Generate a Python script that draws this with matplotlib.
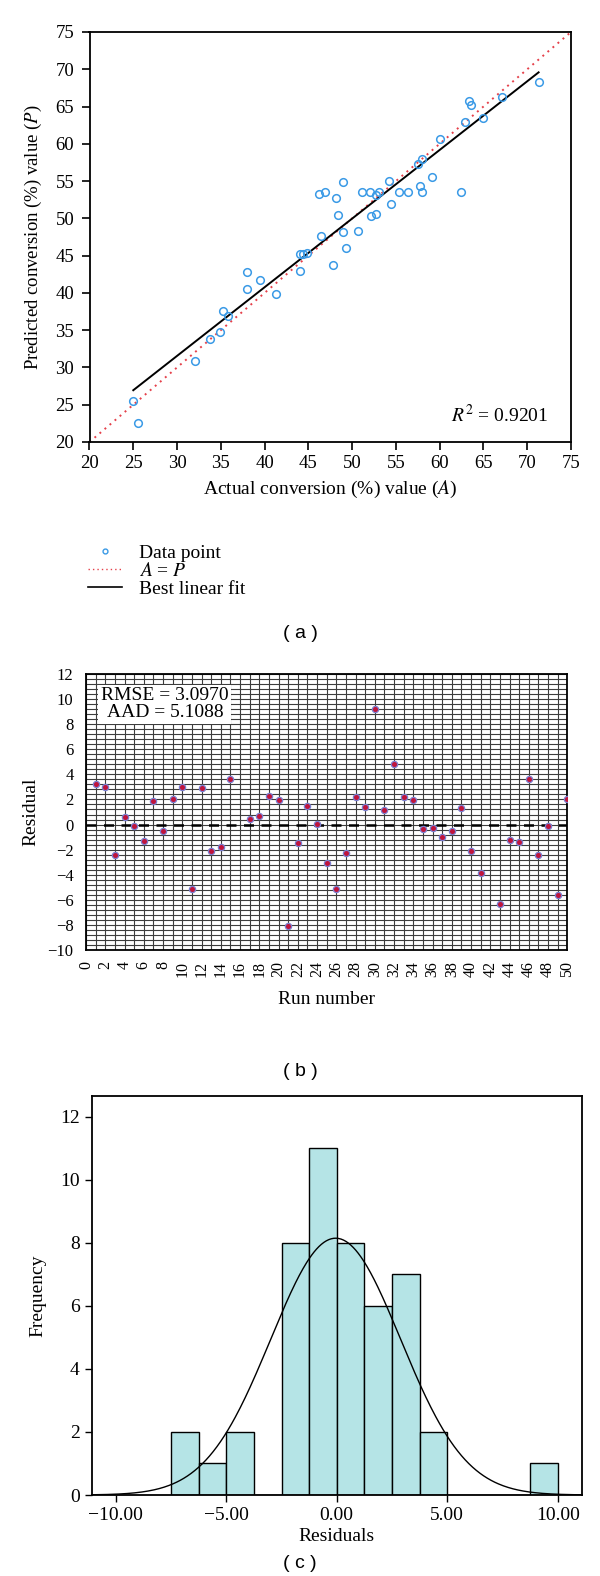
import numpy as np
import matplotlib
matplotlib.use('Agg')
import matplotlib.pyplot as plt
from matplotlib.lines import Line2D
from matplotlib.ticker import MultipleLocator, FuncFormatter

plt.rcParams['font.family'] = ['Liberation Serif', 'DejaVu Serif']
plt.rcParams['mathtext.fontset'] = 'stix'
plt.rcParams['axes.unicode_minus'] = True

# (a) actual vs predicted conversion
actual = [71.3, 67.1, 63.3, 63.55, 64.9, 62.9, 60.0, 58.0, 57.5, 59.1, 57.7, 58.0,
          62.4, 54.2, 55.3, 56.4, 53.1, 52.7, 52.0, 51.1, 54.4, 52.7, 52.2, 50.7,
          48.9, 46.2, 46.9, 48.2, 48.4, 46.4, 48.9, 49.3, 47.8, 44.0, 44.1, 44.4,
          44.9, 38.0, 39.5, 38.0, 41.3, 35.3, 35.8, 34.9, 33.75, 32.0, 25.0, 25.5]
predicted = [68.25, 66.3, 65.8, 65.24, 63.4, 62.9, 60.7, 58.0, 57.3, 55.6, 54.3, 53.6,
             53.6, 55.0, 53.6, 53.6, 53.6, 53.2, 53.6, 53.6, 51.9, 50.6, 50.3, 48.3,
             54.9, 53.3, 53.6, 52.7, 50.5, 47.6, 48.2, 46.05, 43.8, 43.0, 45.2, 45.2,
             45.4, 42.8, 41.7, 40.5, 39.9, 37.6, 36.9, 34.7, 33.8, 30.9, 25.5, 22.5]
fit_slope = 0.921
fit_intercept = 3.92
fit_range = [25.0, 71.3]
r2 = 0.9201

# (b) residuals by run number
runs = [1, 2, 3, 4, 5, 6, 7, 8, 9, 10, 11, 12, 13, 14, 15, 17, 18, 19, 20,
        21, 22, 23, 24, 25, 26, 27, 28, 29, 30, 31, 32, 33, 34, 35, 36, 37,
        38, 39, 40, 41, 43, 44, 45, 46, 47, 48, 49, 50]
residual = [3.23, 2.96, -2.42, 0.61, -0.08, -1.31, 1.89, -0.55, 2.05, 3.01, -5.1,
            2.91, -2.13, -1.81, 3.63, 0.48, 0.67, 2.27, 1.95, -8.06, -1.44, 1.49,
            0.05, -3.06, -5.1, -2.26, 2.19, 1.39, 9.25, 1.12, 4.8, 2.16, 1.95,
            -0.32, -0.27, -1.02, -0.55, 1.33, -2.1, -3.83, -6.34, -1.26, -1.39,
            3.63, -2.4, -0.11, -5.6, 2.05]
rmse = 3.0970
aad = 5.1088

# (c) histogram of residuals
bin_edges = [-7.5, -6.25, -5.0, -3.75, -2.5, -1.25, 0.0, 1.25, 2.5, 3.75, 5.0,
             6.25, 7.5, 8.75, 10.0]
counts = [2, 1, 2, 0, 8, 11, 8, 6, 7, 2, 0, 0, 0, 1]
norm_mean = -0.05
norm_std = 2.94

fig = plt.figure(figsize=(6, 15.76), dpi=100)
W, H = 600, 1576


def rect(left, top, right, bottom):
    return [left / W, 1 - bottom / H, (right - left) / W, (bottom - top) / H]


# ---- panel (a)
ax1 = fig.add_axes(rect(89.5, 32, 571, 442))
ax1.plot([20, 75], [20, 75], linestyle=(0, (1, 2.4)), color='#e5404a', lw=1.4)
xf = np.array(fit_range)
ax1.plot(xf, fit_slope * xf + fit_intercept, color='black', lw=1.4)
ax1.plot(actual, predicted, 'o', mfc='none', mec='#3a9ae6', ms=5.5, mew=1.1)
ax1.set_xlim(20, 75)
ax1.set_ylim(20, 75)
ax1.set_xticks(range(20, 80, 5))
ax1.set_yticks(range(20, 80, 5))
ax1.tick_params(labelsize=13.5, length=6, width=1.2)
ax1.tick_params(axis='y', pad=5)
for s in ax1.spines.values():
    s.set_linewidth(1.3)
ax1.set_xlabel('Actual conversion (%) value ($A$)', fontsize=14, labelpad=5)
ax1.set_ylabel('Predicted conversion (%) value ($P$)', fontsize=13.5, labelpad=8)
ax1.text(72.4, 23.6, '$R^2$ = 0.9201', fontsize=14, ha='right', va='center')

handles = [Line2D([], [], marker='o', ls='none', mfc='none', mec='#3a9ae6', ms=3.5, mew=1),
           Line2D([], [], ls=(0, (1, 2.2)), color='#e5404a', lw=1),
           Line2D([], [], color='black', lw=1.2)]
fig.legend(handles, ['Data point', '$A$ = $P$', 'Best linear fit'],
           loc='upper left', bbox_to_anchor=(88 / W, 1 - 544 / H),
           frameon=False, fontsize=14, handlelength=1.75, handletextpad=0.85,
           labelspacing=0.02, borderpad=0, borderaxespad=0)

# ---- panel (b)
ax2 = fig.add_axes(rect(86, 674, 567.3, 950))
ax2.set_xlim(0, 50)
ax2.set_ylim(-10, 12)
ax2.xaxis.set_major_locator(MultipleLocator(2))
ax2.xaxis.set_minor_locator(MultipleLocator(1))
ax2.yaxis.set_major_locator(MultipleLocator(2))
ax2.yaxis.set_minor_locator(MultipleLocator(0.4))
ax2.grid(which='both', color='#3c3c3c', lw=0.8)
ax2.set_axisbelow(True)
ax2.tick_params(which='both', length=0, labelsize=12)
ax2.tick_params(axis='x', labelrotation=90, pad=8, labelsize=11.5)
ax2.tick_params(axis='y', pad=9)
for s in ax2.spines.values():
    s.set_linewidth(1.3)
ax2.axhline(0, color='black', lw=1.8, ls=(0, (4, 3)))
ax2.plot(runs, residual, 'o', mfc='#c0143c', mec='#7b7fd0', ms=4.5, mew=0.9, zorder=4)
ax2.text(8.2, 9.6, 'RMSE = %.4f\nAAD = %.4f' % (rmse, aad), fontsize=14,
         ha='center', va='center', multialignment='center', linespacing=0.95,
         bbox=dict(facecolor='white', edgecolor='none', pad=2), zorder=5)
ax2.set_xlabel('Run number', fontsize=14, labelpad=10)
ax2.set_ylabel('Residual', fontsize=14, labelpad=6)

# ---- panel (c)
ax3 = fig.add_axes(rect(91.5, 1096, 582, 1495))
edges = np.array(bin_edges)
ax3.bar(edges[:-1], counts, width=np.diff(edges), align='edge',
        color='#b5e4e6', edgecolor='black', lw=1.0)
xs = np.linspace(-11.1, 11.1, 400)
bw = edges[1] - edges[0]
ys = sum(counts) * bw * np.exp(-0.5 * ((xs - norm_mean) / norm_std) ** 2) / (norm_std * np.sqrt(2 * np.pi))
ax3.plot(xs, ys, color='black', lw=1.0)
ax3.set_xlim(-11.1, 11.1)
ax3.set_ylim(0, 12.65)
ax3.set_xticks([-10, -5, 0, 5, 10])
ax3.xaxis.set_major_formatter(FuncFormatter(lambda v, p: ('%.2f' % v).replace('-', '\u2212')))
ax3.set_yticks(range(0, 13, 2))
ax3.tick_params(labelsize=14, length=5, width=1.0)
for s in ax3.spines.values():
    s.set_linewidth(1.3)
ax3.set_xlabel('Residuals', fontsize=14, labelpad=3)
ax3.set_ylabel('Frequency', fontsize=14, labelpad=10)

# captions
for lab, yy in [('( a )', 633), ('( b )', 1071), ('( c )', 1564)]:
    fig.text(0.5, 1 - yy / H, lab, ha='center', va='center', fontsize=14,
             family=['Liberation Sans', 'DejaVu Sans'])

fig.savefig('out.png', dpi=100)
